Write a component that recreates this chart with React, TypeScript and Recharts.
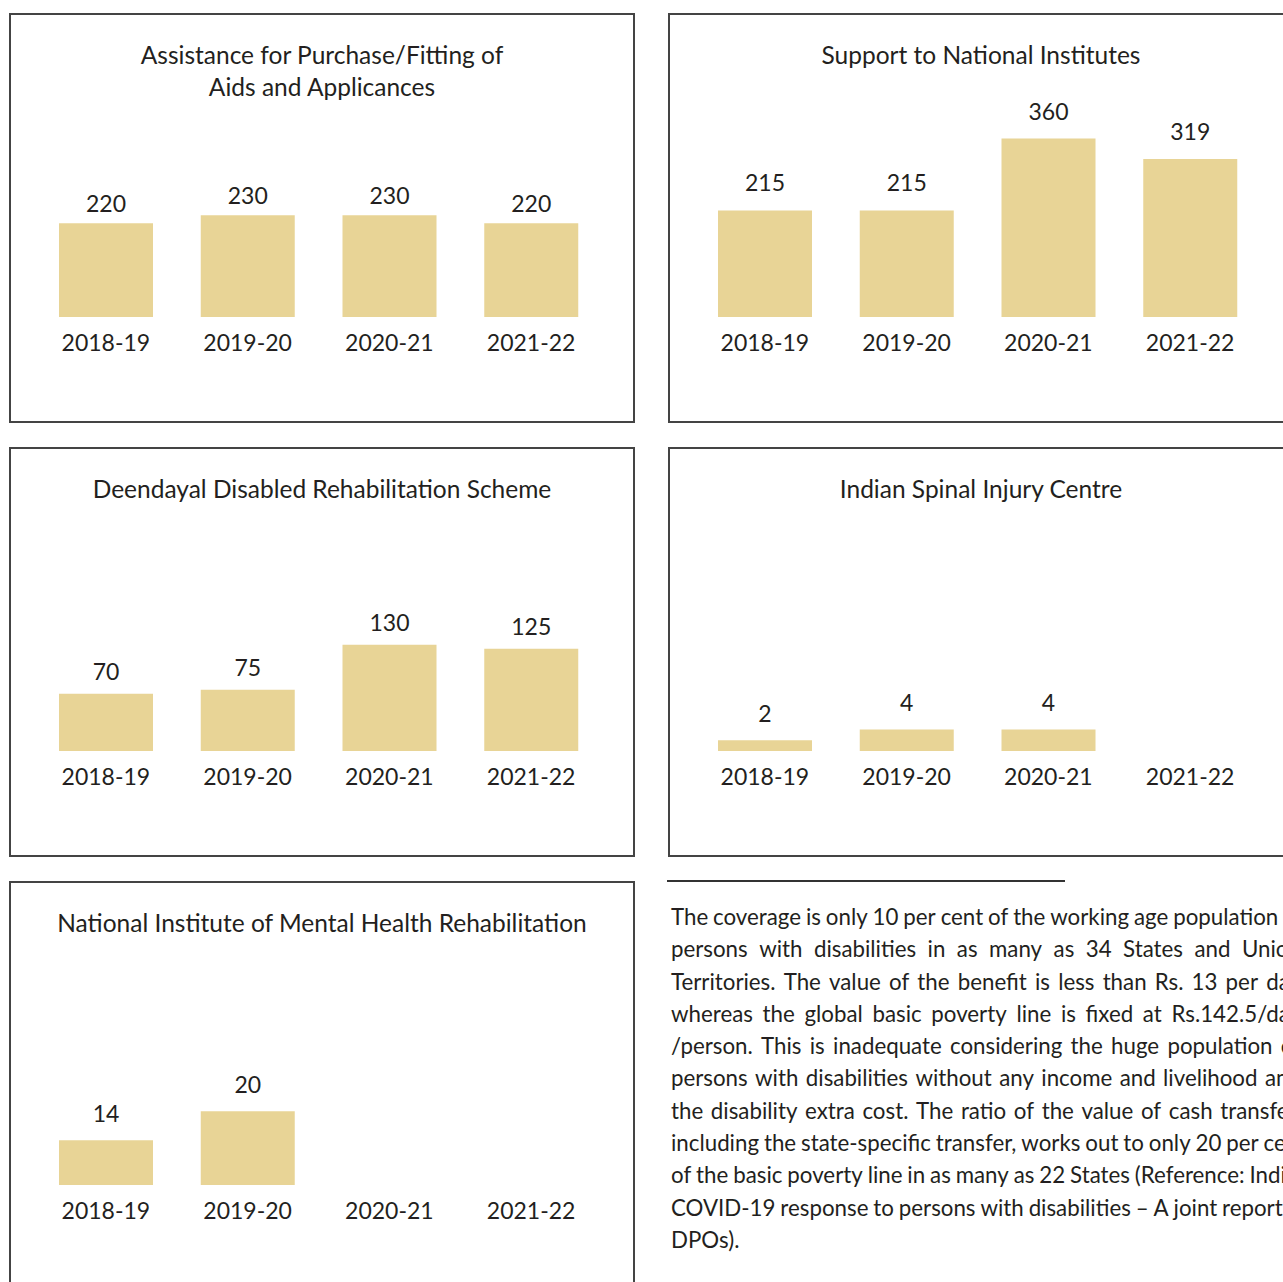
import React from 'react';
import { BarChart, Bar, XAxis, YAxis, LabelList } from 'recharts';

const years = ['2018-19', '2019-20', '2020-21', '2021-22'];
const assistanceValues = [220, 230, 230, 220];
const nationalInstitutesValues = [215, 215, 360, 319];
const deendayalValues = [70, 75, 130, 125];
const spinalValues: (number | null)[] = [2, 4, 4, null];
const mentalHealthValues: (number | null)[] = [14, 20, null, null];

const assistanceTitle = ['Assistance for Purchase/Fitting of', 'Aids and Applicances'];
const nationalInstitutesTitle = ['Support to National Institutes'];
const deendayalTitle = ['Deendayal Disabled Rehabilitation Scheme'];
const spinalTitle = ['Indian Spinal Injury Centre'];
const mentalHealthTitle = ['National Institute of Mental Health Rehabilitation'];

const paragraphLines = [
  'The coverage is only 10 per cent of the working age population of',
  'persons with disabilities in as many as 34 States and Union',
  'Territories. The value of the benefit is less than Rs. 13 per day',
  'whereas the global basic poverty line is fixed at Rs.142.5/day',
  '/person. This is inadequate considering the huge population of',
  'persons with disabilities without any income and livelihood and',
  'the disability extra cost. The ratio of the value of cash transfer,',
  'including the state-specific transfer, works out to only 20 per cent',
  "of the basic poverty line in as many as 22 States (Reference: India's",
  'COVID-19 response to persons with disabilities \u2013 A joint report by',
  'DPOs).',
];

const FONT = 'Lato, "Open Sans", sans-serif';
const INK = '#231f20';
const BAR = '#e8d496';
const PANEL_W = 626;
const PANEL_H = 410;

type PanelProps = {
  left: number;
  top: number;
  title: string[];
  values: (number | null)[];
  domain: [number, number];
  labelOffset: number;
};

function Panel({ left, top, title, values, domain, labelOffset }: PanelProps) {
  const data = years.map((y, i) => ({ year: y, value: values[i] }));
  return (
    <div style={{ position: 'absolute', left, top, width: PANEL_W, height: PANEL_H }}>
      <div
        style={{
          position: 'absolute',
          left: 0,
          top: 0,
          width: PANEL_W,
          height: PANEL_H,
          boxSizing: 'border-box',
          border: '2px solid #444444',
        }}
      />
      <div
        style={{
          position: 'absolute',
          left: 0,
          top: 26,
          width: PANEL_W,
          textAlign: 'center',
          fontFamily: FONT,
          fontSize: 24.5,
          lineHeight: '32px',
          color: INK,
        }}
      >
        {title.map((t) => (
          <div key={t}>{t}</div>
        ))}
      </div>
      <div style={{ position: 'absolute', left: 0, top: 0 }}>
        <BarChart
          width={PANEL_W}
          height={PANEL_H}
          data={data}
          margin={{ top: 121, right: 33, bottom: 0, left: 26 }}
        >
          <XAxis
            dataKey="year"
            axisLine={false}
            tickLine={false}
            tickSize={0}
            tickMargin={18}
            height={106}
            interval={0}
            tick={{ fontFamily: FONT, fontSize: 23, fill: INK }}
          />
          <YAxis hide type="number" domain={domain} allowDataOverflow />
          <Bar dataKey="value" fill={BAR} barSize={94} isAnimationActive={false}>
            <LabelList
              dataKey="value"
              position="top"
              offset={labelOffset}
              formatter={(v: any) => (v === null || v === undefined ? '' : v)}
              style={{ fontFamily: FONT, fontSize: 23, fill: INK }}
            />
          </Bar>
        </BarChart>
      </div>
    </div>
  );
}

export default function App() {
  return (
    <div
      style={{
        position: 'absolute',
        left: 0,
        top: 0,
        width: 1283,
        height: 1282,
        overflow: 'hidden',
        background: '#ffffff',
      }}
    >
      <Panel left={9} top={13} title={assistanceTitle} values={assistanceValues} domain={[102.9, 331.7]} labelOffset={11} />
      <Panel left={668} top={13} title={nationalInstitutesTitle} values={nationalInstitutesValues} domain={[0, 369.3]} labelOffset={19} />
      <Panel left={9} top={447} title={deendayalTitle} values={deendayalValues} domain={[0, 223.7]} labelOffset={14} />
      <Panel left={668} top={447} title={spinalTitle} values={spinalValues} domain={[0, 33.9]} labelOffset={18} />
      <Panel left={9} top={881} title={mentalHealthTitle} values={mentalHealthValues} domain={[4.75, 42.6]} labelOffset={18} />

      <div style={{ position: 'absolute', left: 667, top: 880, width: 398, height: 2, background: '#333333' }} />
      <div
        style={{
          position: 'absolute',
          left: 671,
          top: 901,
          width: 630,
          fontFamily: FONT,
          fontSize: 22.3,
          color: INK,
        }}
      >
        {paragraphLines.map((line, i) => {
          const last = i === paragraphLines.length - 1;
          const words = line.split(' ');
          return (
            <div
              key={i}
              style={{
                height: 32.3,
                lineHeight: '32.3px',
                display: 'flex',
                columnGap: '0.22em',
                justifyContent: last ? 'flex-start' : 'space-between',
                whiteSpace: 'nowrap',
              }}
            >
              {words.map((w, j) => (
                <span key={j} style={{ flexShrink: 0 }}>
                  {w}
                </span>
              ))}
            </div>
          );
        })}
      </div>
    </div>
  );
}
